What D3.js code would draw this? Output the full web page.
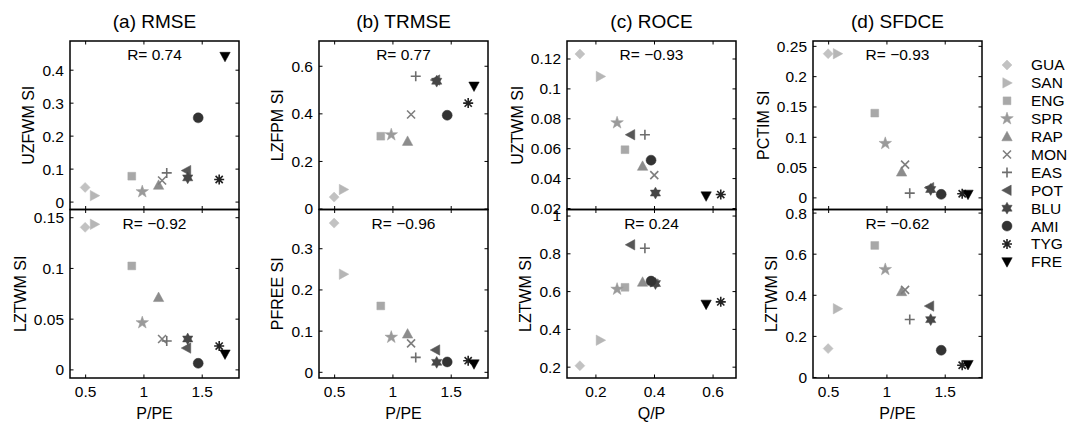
<!DOCTYPE html>
<html>
<head>
<meta charset="utf-8">
<script src="https://cdn.jsdelivr.net/npm/d3@7"></script>
<style>
body { margin: 0; background: #fff; }
svg text { font-family: "Liberation Sans", Arial, Helvetica, sans-serif; fill: #000; }
</style>
</head>
<body>
<div id="chart"></div>
<script>
// == DATA == //
const sites = ["GUA", "SAN", "ENG", "SPR", "RAP", "MON", "EAS", "POT", "BLU", "AMI", "TYG", "FRE"];

// x values
const pPE = [0.50, 0.58, 0.90, 0.99, 1.13, 1.16, 1.20, 1.37, 1.38, 1.47, 1.65, 1.70];
const qP  = [0.147, 0.217, 0.301, 0.274, 0.361, 0.401, 0.369, 0.320, 0.405, 0.390, 0.628, 0.578];

// (a) RMSE
const rmseUZFWM = [0.043, 0.018, 0.077, 0.030, 0.050, 0.064, 0.087, 0.094, 0.072, 0.254, 0.067, 0.440];
const rmseLZTWM = [0.140, 0.143, 0.102, 0.046, 0.071, 0.030, 0.028, 0.021, 0.030, 0.006, 0.023, 0.015];
// (b) TRMSE
const trmseLZFPM = [0.048, 0.080, 0.304, 0.310, 0.283, 0.395, 0.556, 0.540, 0.535, 0.392, 0.443, 0.514];
const trmsePFREE = [0.361, 0.237, 0.160, 0.084, 0.092, 0.069, 0.035, 0.053, 0.023, 0.024, 0.027, 0.019];
// (c) ROCE
const roceUZTWM = [0.123, 0.108, 0.059, 0.077, 0.048, 0.042, 0.069, 0.069, 0.030, 0.052, 0.029, 0.028];
const roceLZTWM = [0.205, 0.340, 0.620, 0.610, 0.648, 0.643, 0.827, 0.845, 0.640, 0.653, 0.543, 0.530];
// (d) SFDCE
const sfdcePCTIM = [0.237, 0.237, 0.139, 0.089, 0.042, 0.054, 0.007, 0.016, 0.013, 0.005, 0.006, 0.005];
const sfdceLZTWM = [0.138, 0.332, 0.640, 0.523, 0.416, 0.424, 0.280, 0.345, 0.279, 0.130, 0.057, 0.060];

// correlation labels
const rTop    = ["0.74", "0.77", "\u22120.93", "\u22120.93"];
const rBottom = ["\u22120.92", "\u22120.96", "0.24", "\u22120.62"];

// tick values
const ticksPPE = [0.5, 1, 1.5];
const ticksQP = [0.2, 0.4, 0.6];

// marker greys, light to dark
const colors = ["#c2c2c2", "#b6b6b6", "#a8a8a8", "#9a9a9a", "#8c8c8c", "#7e7e7e",
                "#6e6e6e", "#575757", "#464646", "#333333", "#222222", "#000000"];

const panels = [
    {title: "(a) RMSE", xLabel: "P/PE", xs: pPE, xDomain: [0.37, 1.82], xTicks: ticksPPE,
        top: {label: "UZFWM SI", ys: rmseUZFWM, domain: [-0.024, 0.487], ticks: [0, 0.1, 0.2, 0.3, 0.4], r: rTop[0]},
        bottom: {label: "LZTWM SI", ys: rmseLZTWM, domain: [-0.0085, 0.1576], ticks: [0, 0.05, 0.1, 0.15], r: rBottom[0]}},
    {title: "(b) TRMSE", xLabel: "P/PE", xs: pPE, xDomain: [0.37, 1.82], xTicks: ticksPPE,
        top: {label: "LZFPM SI", ys: trmseLZFPM, domain: [-0.004, 0.704], ticks: [0, 0.2, 0.4, 0.6], r: rTop[1]},
        bottom: {label: "PFREE SI", ys: trmsePFREE, domain: [-0.015, 0.394], ticks: [0, 0.1, 0.2, 0.3], r: rBottom[1]}},
    {title: "(c) ROCE", xLabel: "Q/P", xs: qP, xDomain: [0.103, 0.68], xTicks: ticksQP,
        top: {label: "UZTWM SI", ys: roceUZTWM, domain: [0.019, 0.1317], ticks: [0.02, 0.04, 0.06, 0.08, 0.1, 0.12], r: rTop[2]},
        bottom: {label: "LZTWM SI", ys: roceLZTWM, domain: [0.14, 1.032], ticks: [0.2, 0.4, 0.6, 0.8, 1], r: rBottom[2]}},
    {title: "(d) SFDCE", xLabel: "P/PE", xs: pPE, xDomain: [0.37, 1.82], xTicks: ticksPPE,
        top: {label: "PCTIM SI", ys: sfdcePCTIM, domain: [-0.02, 0.258], ticks: [0, 0.05, 0.1, 0.15, 0.2, 0.25], r: rTop[3]},
        bottom: {label: "LZTWM SI", ys: sfdceLZTWM, domain: [-0.005, 0.815], ticks: [0, 0.2, 0.4, 0.6, 0.8], r: rBottom[3]}}
];

// == LAYOUT == //
const width = 1068, height = 422;
const boxLeft = [70, 319, 567, 813];
const boxW = 169;
const boxTop = 41, boxMid = 209.5, boxBottom = 378;
const fmt = d3.format("~g");

// marker shapes (matlab style)
function starPath(n, rOut, rIn) {
    let pts = [];
    for (let k = 0; k < 2 * n; k++) {
        let a = -Math.PI / 2 + k * Math.PI / n;
        let r = k % 2 === 0 ? rOut : rIn;
        pts.push([r * Math.cos(a), r * Math.sin(a)]);
    }
    return "M" + pts.map(p => p[0].toFixed(2) + "," + p[1].toFixed(2)).join("L") + "Z";
}
const shapes = [
    {d: "M0,-5L5,0L0,5L-5,0Z", fill: true},                    // diamond
    {d: "M5.3,0L-4.2,-5.2L-4.2,5.2Z", fill: true},             // triangle right
    {d: "M-3.9,-3.9L3.9,-3.9L3.9,3.9L-3.9,3.9Z", fill: true},  // square
    {d: starPath(5, 6.6, 2.6), fill: true},                    // pentagram
    {d: "M0,-5.3L5.2,4.2L-5.2,4.2Z", fill: true},              // triangle up
    {d: "M-4,-4L4,4M4,-4L-4,4", fill: false},                  // x
    {d: "M-5,0L5,0M0,-5L0,5", fill: false},                    // +
    {d: "M-5.3,0L4.2,-5.2L4.2,5.2Z", fill: true},              // triangle left
    {d: starPath(6, 5.9, 3.4), fill: true},                    // hexagram
    {d: d3.symbol(d3.symbolCircle, 78)(), fill: true},         // circle
    {d: "M-5,0L5,0M0,-5L0,5M-3.6,-3.6L3.6,3.6M3.6,-3.6L-3.6,3.6", fill: false}, // asterisk
    {d: "M0,5.3L5.2,-4.2L-5.2,-4.2Z", fill: true}              // triangle down
];

function drawMarker(g, i, cx, cy) {
    let s = shapes[i];
    g.append("path")
        .attr("d", s.d)
        .attr("transform", `translate(${cx},${cy})`)
        .attr("fill", s.fill ? colors[i] : "none")
        .attr("stroke", colors[i])
        .attr("stroke-width", s.fill ? 0.5 : 1.6);
}

// == SVG == //
const svg = d3.select("#chart").append("svg")
    .attr("width", width)
    .attr("height", height);

panels.forEach((p, i) => {
    let x0 = boxLeft[i];
    let x = d3.scaleLinear().domain(p.xDomain).range([x0, x0 + boxW]);

    // title
    svg.append("text")
        .attr("x", x0 + boxW / 2)
        .attr("y", 28)
        .attr("text-anchor", "middle")
        .style("font-size", "19px")
        .text(p.title);

    [p.top, p.bottom].forEach((sp, j) => {
        let y0 = j === 0 ? boxTop : boxMid;
        let y1 = j === 0 ? boxMid : boxBottom;
        let y = d3.scaleLinear().domain(sp.domain).range([y1, y0]);
        let g = svg.append("g");

        // left axis with labels
        let yAxisG = g.append("g")
            .attr("transform", `translate(${x0},0)`)
            .call(d3.axisLeft(y).tickValues(sp.ticks).tickSize(-3.5).tickPadding(6).tickFormat(fmt));
        yAxisG.select(".domain").remove();
        yAxisG.selectAll("text").style("font-size", "15.5px").attr("dy", "0.35em");

        // right ticks
        let yR = g.append("g")
            .attr("transform", `translate(${x0 + boxW},0)`)
            .call(d3.axisRight(y).tickValues(sp.ticks).tickSize(-3.5).tickFormat(""));
        yR.select(".domain").remove();

        // top / bottom ticks
        let xT = g.append("g")
            .attr("transform", `translate(0,${y0})`)
            .call(d3.axisTop(x).tickValues(p.xTicks).tickSize(-3.5).tickFormat(""));
        xT.select(".domain").remove();
        let xB = g.append("g")
            .attr("transform", `translate(0,${y1})`)
            .call(d3.axisBottom(x).tickValues(p.xTicks).tickSize(-3.5)
                .tickPadding(8).tickFormat(j === 1 ? fmt : ""));
        xB.select(".domain").remove();
        xB.selectAll("text").style("font-size", "15.5px");

        g.selectAll(".tick line").attr("stroke", "#000").attr("stroke-width", 1);

        // box
        g.append("rect")
            .attr("x", x0).attr("y", y0)
            .attr("width", boxW).attr("height", y1 - y0)
            .attr("fill", "none")
            .attr("stroke", "#000")
            .attr("stroke-width", 1.5);

        // y label, placed left of the tick labels
        let bb = yAxisG.node().getBBox();
        let lx = x0 + bb.x - 8;
        let ly = (y0 + y1) / 2;
        g.append("text")
            .attr("transform", `translate(${lx},${ly}) rotate(-90)`)
            .attr("text-anchor", "middle")
            .style("font-size", "16px")
            .text(sp.label);

        // R text
        g.append("text")
            .attr("x", x0 + boxW / 2)
            .attr("y", y0 + 19)
            .attr("text-anchor", "middle")
            .style("font-size", "15.5px")
            .text("R= " + sp.r);

        // points
        let pts = g.append("g");
        sites.forEach((s, k) => drawMarker(pts, k, x(p.xs[k]), y(sp.ys[k])));
    });

    // x label
    svg.append("text")
        .attr("x", x0 + boxW / 2)
        .attr("y", 419)
        .attr("text-anchor", "middle")
        .style("font-size", "16px")
        .text(p.xLabel);
});

// == LEGEND == //
let legend = svg.append("g").attr("class", "legend");
sites.forEach((s, k) => {
    let ly = 65 + k * 17.9;
    drawMarker(legend, k, 1007, ly);
    legend.append("text")
        .attr("x", 1031)
        .attr("y", ly)
        .attr("dy", "0.35em")
        .style("font-size", "15.5px")
        .text(s);
});
</script>
</body>
</html>
